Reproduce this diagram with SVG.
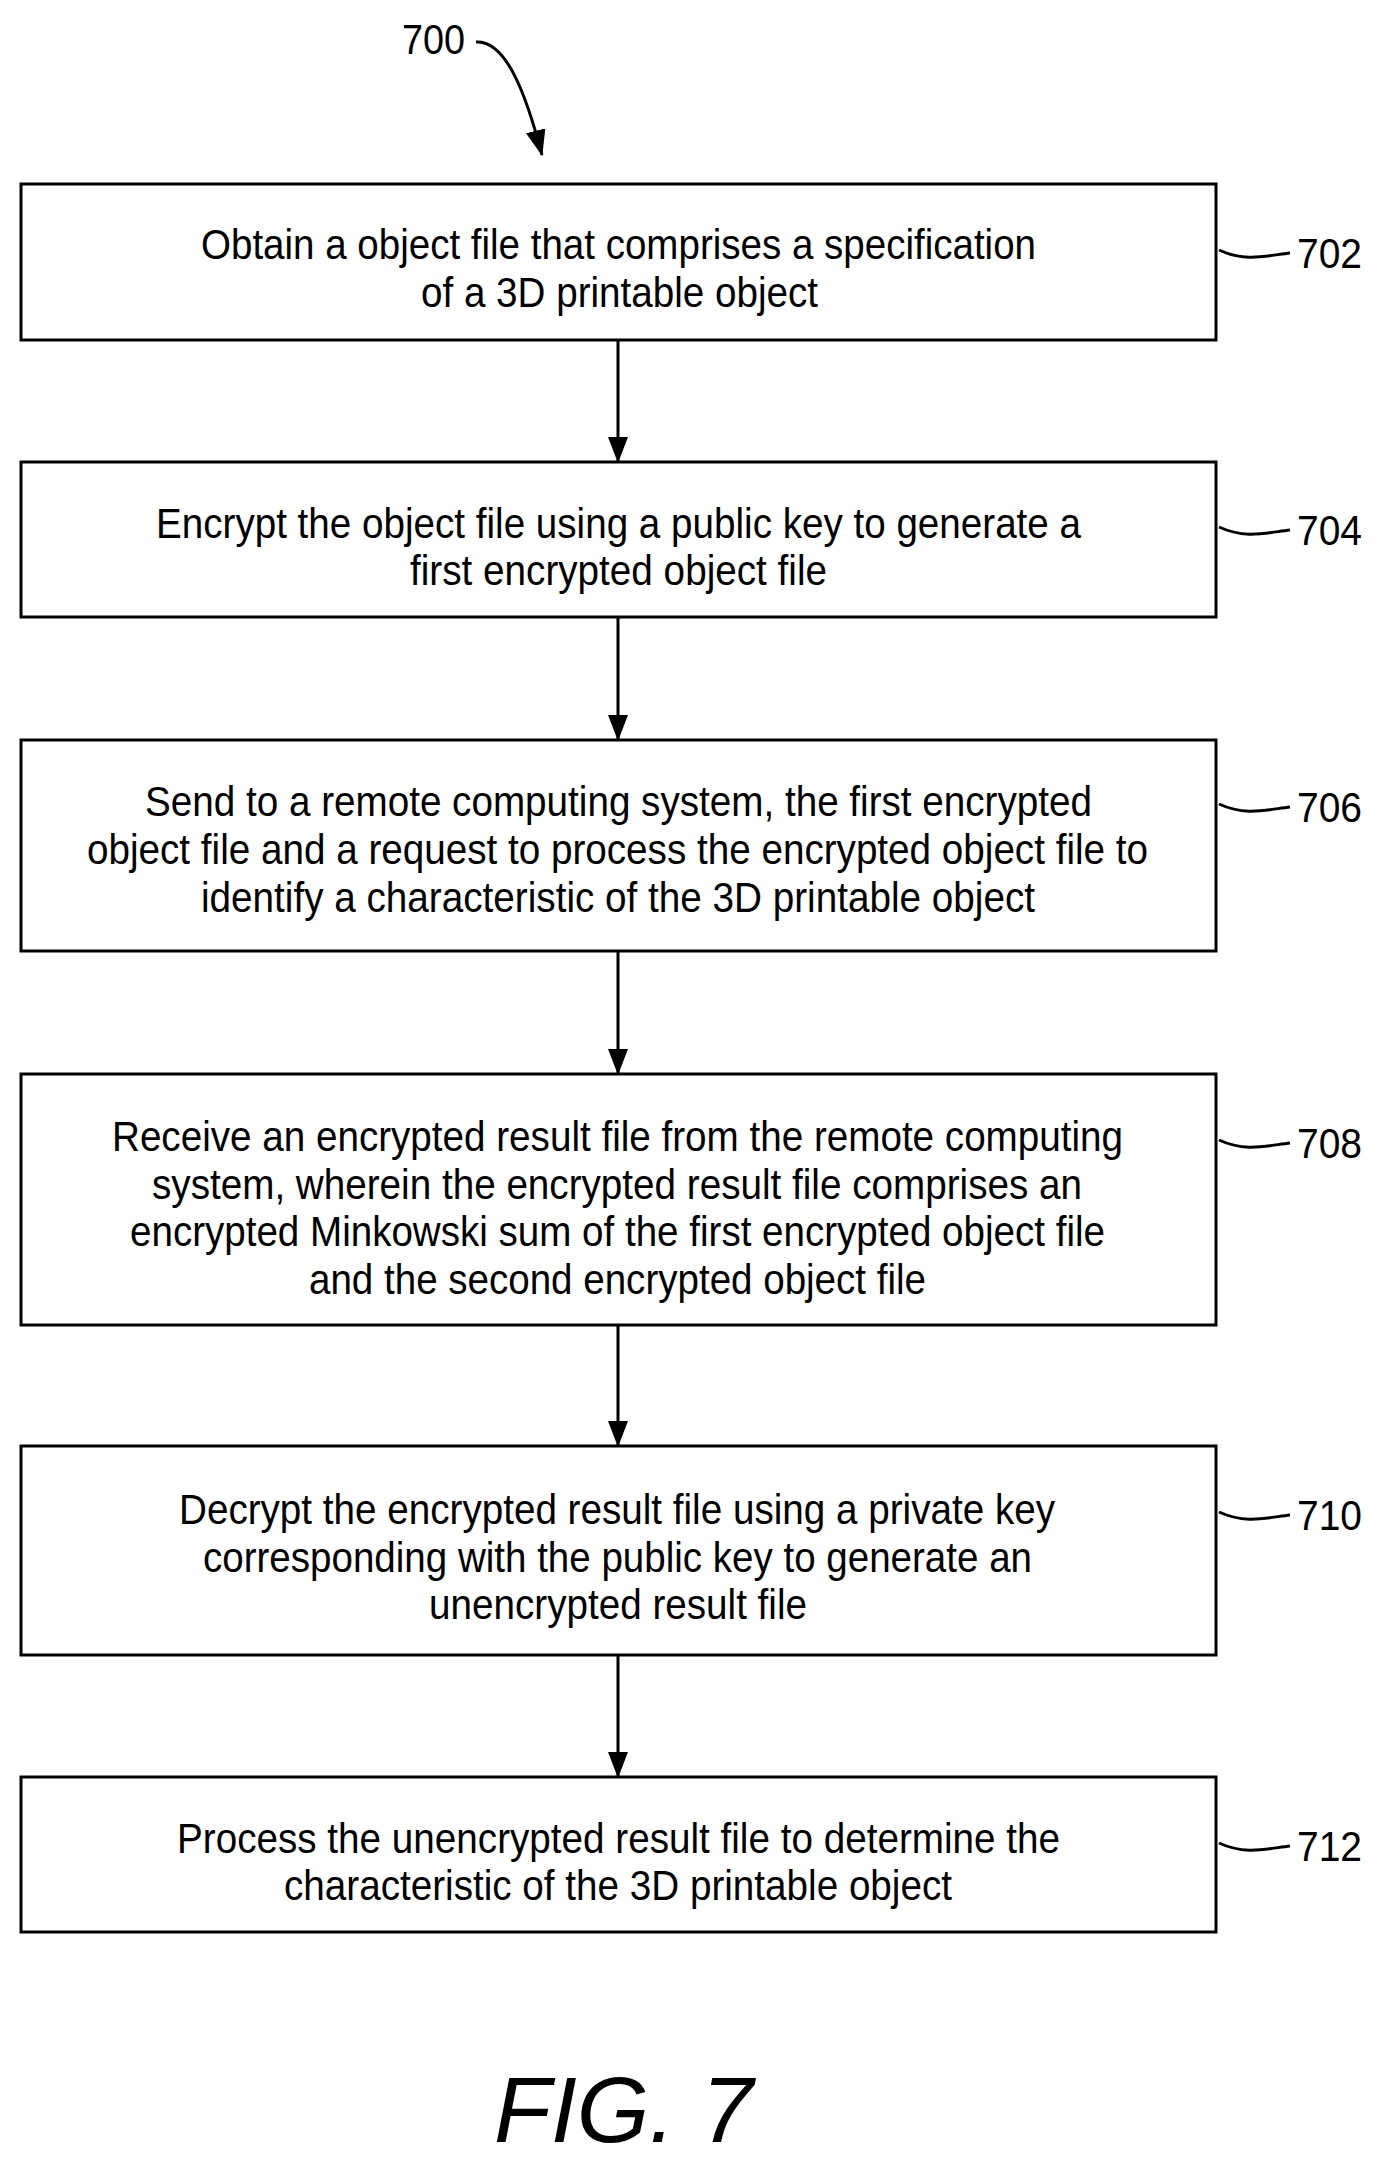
<svg xmlns="http://www.w3.org/2000/svg" width="1380" height="2161" viewBox="0 0 1380 2161">
<style>
.b{fill:#fff;stroke:#000;stroke-width:3}
.t{font-family:"Liberation Sans",Arial,sans-serif;font-size:42px;fill:#000}
.l{fill:none;stroke:#000;stroke-width:3}
</style>
<defs><marker id="a" markerWidth="26" markerHeight="20" refX="25" refY="10" orient="auto" markerUnits="userSpaceOnUse"><path d="M0,0L26,10L0,20z"/></marker>
<marker id="a2" markerWidth="26" markerHeight="20" refX="25" refY="10" orient="auto" markerUnits="userSpaceOnUse"><path d="M0,0L26,10L0,20z"/></marker></defs>
<rect width="1380" height="2161" fill="#fff"/>
<g id="title"><text class="t" x="402" y="54" textLength="63" lengthAdjust="spacingAndGlyphs">700</text></g>
<g id="n702"><rect class="b" x="21" y="184" width="1195" height="156"/>
<text class="t" x="201" y="259" textLength="835" lengthAdjust="spacingAndGlyphs">Obtain a object file that comprises a specification</text>
<text class="t" x="421" y="307" textLength="397" lengthAdjust="spacingAndGlyphs">of a 3D printable object</text>
<text class="t" x="1297" y="268" textLength="65" lengthAdjust="spacingAndGlyphs">702</text></g>
<g id="n704"><rect class="b" x="21" y="462" width="1195" height="155"/>
<text class="t" x="156" y="538" textLength="925" lengthAdjust="spacingAndGlyphs">Encrypt the object file using a public key to generate a</text>
<text class="t" x="410" y="585" textLength="417" lengthAdjust="spacingAndGlyphs">first encrypted object file</text>
<text class="t" x="1297" y="545" textLength="65" lengthAdjust="spacingAndGlyphs">704</text></g>
<g id="n706"><rect class="b" x="21" y="740" width="1195" height="211"/>
<text class="t" x="145" y="816" textLength="947" lengthAdjust="spacingAndGlyphs">Send to a remote computing system, the first encrypted</text>
<text class="t" x="87" y="864" textLength="1061" lengthAdjust="spacingAndGlyphs">object file and a request to process the encrypted object file to</text>
<text class="t" x="201" y="912" textLength="834" lengthAdjust="spacingAndGlyphs">identify a characteristic of the 3D printable object</text>
<text class="t" x="1297" y="822" textLength="65" lengthAdjust="spacingAndGlyphs">706</text></g>
<g id="n708"><rect class="b" x="21" y="1074" width="1195" height="251"/>
<text class="t" x="112" y="1151" textLength="1011" lengthAdjust="spacingAndGlyphs">Receive an encrypted result file from the remote computing</text>
<text class="t" x="152" y="1199" textLength="930" lengthAdjust="spacingAndGlyphs">system, wherein the encrypted result file comprises an</text>
<text class="t" x="130" y="1246" textLength="975" lengthAdjust="spacingAndGlyphs">encrypted Minkowski sum of the first encrypted object file</text>
<text class="t" x="309" y="1294" textLength="617" lengthAdjust="spacingAndGlyphs">and the second encrypted object file</text>
<text class="t" x="1297" y="1158" textLength="65" lengthAdjust="spacingAndGlyphs">708</text></g>
<g id="n710"><rect class="b" x="21" y="1446" width="1195" height="209"/>
<text class="t" x="179" y="1524" textLength="876" lengthAdjust="spacingAndGlyphs">Decrypt the encrypted result file using a private key</text>
<text class="t" x="203" y="1572" textLength="829" lengthAdjust="spacingAndGlyphs">corresponding with the public key to generate an</text>
<text class="t" x="429" y="1619" textLength="378" lengthAdjust="spacingAndGlyphs">unencrypted result file</text>
<text class="t" x="1297" y="1530" textLength="65" lengthAdjust="spacingAndGlyphs">710</text></g>
<g id="n712"><rect class="b" x="21" y="1777" width="1195" height="155"/>
<text class="t" x="177" y="1853" textLength="883" lengthAdjust="spacingAndGlyphs">Process the unencrypted result file to determine the</text>
<text class="t" x="284" y="1900" textLength="668" lengthAdjust="spacingAndGlyphs">characteristic of the 3D printable object</text>
<text class="t" x="1297" y="1861" textLength="65" lengthAdjust="spacingAndGlyphs">712</text></g>
<g id="fig"><text x="494" y="2142" font-family="Liberation Sans,Arial,sans-serif" font-style="italic" font-size="92" textLength="259" lengthAdjust="spacingAndGlyphs">FIG. 7</text></g>
<g id="connectors">
<path class="l" d="M476,42 C505,40 525,90 542,155" marker-end="url(#a2)"/>
<path class="l" d="M618,340V462" marker-end="url(#a)"/>
<path class="l" d="M618,617V740" marker-end="url(#a)"/>
<path class="l" d="M618,951V1074" marker-end="url(#a)"/>
<path class="l" d="M618,1325V1446" marker-end="url(#a)"/>
<path class="l" d="M618,1655V1777" marker-end="url(#a)"/>
<path class="l" d="M1219,250 C1245,262 1265,256 1290,253"/>
<path class="l" d="M1219,527 C1245,539 1265,533 1290,530"/>
<path class="l" d="M1219,804 C1245,816 1265,810 1290,807"/>
<path class="l" d="M1219,1140 C1245,1152 1265,1146 1290,1143"/>
<path class="l" d="M1219,1512 C1245,1524 1265,1518 1290,1515"/>
<path class="l" d="M1219,1843 C1245,1855 1265,1849 1290,1846"/>
</g>
</svg>
